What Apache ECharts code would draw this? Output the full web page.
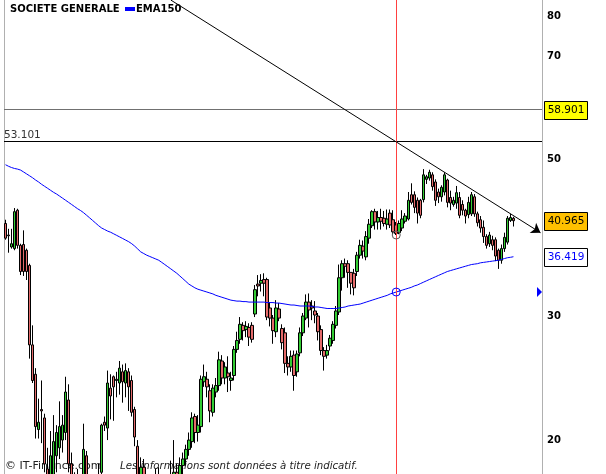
<!DOCTYPE html>
<html><head><meta charset="utf-8">
<script src="https://cdn.jsdelivr.net/npm/echarts@6/dist/echarts.min.js"></script>
<style>html,body{margin:0;padding:0;background:#fff}#c{width:606px;height:474px}</style>
</head><body><div id="c"></div>
<script>
// weekly candles: [open, close, low, high]
const candles = [
[40.6,38.7,38.5,41.1],[39.1,39.0,36.9,39.9],[37.6,38.0,37.4,39.9],[37.4,42.2,37.2,42.7],[42.4,37.8,37.4,42.6],
[37.8,34.7,34.3,38.0],[37.9,34.7,34.2,39.7],[37.2,34.7,33.75,37.4],[35.4,27.3,26.1,35.6],[27.3,24.3,24.1,29.1],
[24.8,20.9,20.1,25.3],[20.7,21.2,20.1,22.9],[22.1,22.0,19.8,24.3],[21.5,18.5,18.0,21.8],[18.2,17.0,15.5,19.5],
[16.5,19.0,15.8,20.6],[17.5,19.9,16.8,21.7],[19.0,20.5,18.0,21.0],[19.5,20.9,18.8,22.7],[20.0,21.0,19.2,21.7],
[20.5,23.4,20.0,24.6],[22.8,18.5,18.0,24.0],[18.5,17.3,16.8,19.2],[17.3,16.8,16.0,18.0],[16.8,17.5,16.2,18.2],
[17.5,16.9,16.1,17.9],[17.0,19.4,16.6,21.1],[19.0,17.2,16.8,19.3],[17.2,16.0,15.4,17.6],[16.0,16.6,15.6,17.2],
[16.6,17.5,16.2,17.8],[17.4,17.8,17.0,18.5],[18.0,21.0,17.6,21.1],[21.2,21.0,20.6,21.6],[20.8,24.1,20.0,25.1],
[23.7,23.1,21.4,24.8],[24.6,23.8,21.3,24.7],[24.3,24.4,23.0,25.0],[24.1,25.3,23.2,25.9],[25.0,24.2,22.6,25.6],
[24.1,25.1,23.0,25.7],[25.0,23.8,22.0,25.3],[24.3,21.9,21.6,24.7],[22.1,20.2,19.6,22.3],[19.6,17.5,17.0,20.0],
[17.5,18.3,17.0,18.9],[18.3,17.4,17.0,18.8],[17.4,16.5,16.0,17.8],[16.5,17.2,16.1,17.7],[17.2,16.4,15.8,17.5],
[16.4,17.6,16.2,18.2],[17.6,17.0,16.7,18.3],[17.0,16.0,15.6,17.2],[16.0,15.6,15.1,16.5],[15.6,16.8,15.3,17.3],
[16.8,16.6,16.2,18.7],[17.4,18.0,16.8,20.0],[18.0,17.6,17.0,18.5],[17.6,18.4,17.2,18.9],[18.4,18.8,17.9,19.2],
[18.8,19.4,18.4,19.7],[19.4,20.0,19.0,20.5],[19.9,21.5,19.5,21.9],[21.6,20.5,19.8,21.8],[20.5,21.0,19.9,21.7],
[20.9,24.4,20.5,24.7],[24.2,24.6,23.8,25.6],[24.4,23.8,23.0,25.0],[23.5,22.0,21.2,24.0],[21.9,23.7,21.6,24.0],
[23.4,23.9,23.0,24.5],[23.9,26.0,23.5,26.7],[25.9,24.5,24.0,26.4],[24.5,25.4,24.0,25.8],[24.9,24.6,23.4,26.3],
[24.3,24.5,23.5,25.0],[24.7,26.9,24.3,27.2],[26.9,27.7,26.6,28.5],[27.8,29.2,27.4,29.9],[29.1,28.6,27.7,29.4],
[28.7,29.0,28.0,29.5],[28.9,28.0,27.2,29.3],[29.1,27.8,27.5,29.4],[30.2,32.7,29.9,33.2],[33.3,33.1,32.0,34.3],
[33.4,33.7,32.5,34.4],[33.8,33.4,32.0,34.5],[33.8,29.9,29.6,34.0],[30.8,29.8,29.0,31.4],[29.8,28.6,27.4,30.1],
[28.5,30.8,28.0,31.6],[30.7,29.8,29.5,31.3],[28.8,27.5,26.9,29.2],[28.4,25.7,24.9,28.9],[25.7,25.4,24.7,26.3],
[25.4,26.3,25.0,26.8],[26.4,24.7,23.5,26.8],[25.0,26.5,24.6,26.8],[26.6,28.4,26.3,28.9],[28.4,30.0,28.1,30.3],
[29.8,31.4,29.6,32.2],[31.4,30.6,28.9,32.3],[31.0,30.8,29.6,31.6],[30.5,30.1,29.3,31.5],[30.0,28.5,27.7,30.3],
[28.7,26.8,26.4,29.1],[26.8,26.3,25.1,27.1],[26.4,26.8,26.1,27.3],[27.2,27.9,26.8,28.2],[27.7,29.2,27.4,29.5],
[29.1,30.5,28.8,31.0],[30.4,34.0,30.1,35.5],[34.0,35.6,32.6,36.0],[35.6,35.3,34.0,36.2],[35.6,34.6,32.9,36.0],
[34.6,33.4,32.2,34.6],[34.5,32.9,32.1,35.0],[34.7,36.6,34.2,37.0],[36.6,37.8,36.2,38.5],[37.7,37.1,36.2,38.4],
[36.4,38.9,36.0,39.6],[38.7,40.5,38.0,41.2],[40.3,42.2,40.0,42.4],[42.2,40.8,39.8,42.6],[40.8,41.4,39.8,42.3],
[41.4,40.9,39.8,42.6],[41.3,40.6,40.2,42.3],[40.5,41.2,39.8,42.5],[42.0,40.4,40.0,42.5],[41.1,39.5,39.2,42.4],
[40.4,39.3,39.1,40.8],[39.4,40.6,39.2,41.0],[40.0,41.2,39.6,42.4],[40.9,41.6,40.6,42.0],[41.2,43.8,41.0,45.0],
[44.6,43.5,43.2,46.3],[44.6,42.8,42.0,45.1],[43.8,42.0,40.6,44.2],[43.8,41.7,41.3,44.0],[43.9,47.6,43.5,48.5],
[46.9,47.3,46.2,47.6],[47.1,48.0,46.7,48.4],[47.6,45.8,45.2,48.0],[46.5,43.8,43.0,46.9],[45.0,44.3,43.4,45.5],
[44.3,45.7,43.6,46.0],[45.0,47.6,44.5,48.0],[46.8,43.5,42.8,47.0],[44.2,43.4,42.4,45.2],[43.2,43.8,42.9,44.3],
[43.4,44.9,42.6,45.9],[44.2,41.7,41.3,45.0],[43.2,42.4,41.7,43.8],[42.4,41.6,40.6,42.6],[41.8,43.5,41.3,44.3],
[41.9,44.6,41.6,45.0],[44.3,41.9,41.5,44.7],[41.9,40.7,40.2,42.2],[41.1,40.0,39.4,41.6],[40.1,38.9,38.1,41.0],
[38.9,37.8,37.4,39.2],[38.0,39.1,37.6,39.5],[38.5,37.8,37.2,39.0],[38.5,36.5,35.9,38.8],[37.2,36.0,35.0,37.4],
[36.0,37.4,35.6,37.9],[37.4,38.8,37.0,39.4],[38.2,41.3,37.9,41.6],[41.0,41.4,40.8,41.9],[41.3,40.965,40.2,41.5]
];
const ema150 = [
49.2,48.95,48.75,48.6,48.5,48.35,48.05,47.75,47.45,47.15,
46.8,46.5,46.15,45.85,45.55,45.25,44.95,44.7,44.4,44.1,
43.8,43.5,43.2,42.9,42.6,42.35,42.05,41.7,41.35,41.0,
40.65,40.3,40.0,39.8,39.6,39.45,39.25,39.05,38.85,38.65,
38.45,38.25,38.0,37.7,37.35,37.0,36.8,36.6,36.45,36.3,
36.15,36.0,35.75,35.5,35.25,35.0,34.75,34.5,34.2,33.9,
33.6,33.3,33.1,32.9,32.75,32.65,32.55,32.45,32.35,32.25,
32.1,32.0,31.9,31.8,31.7,31.6,31.55,31.5,31.5,31.45,
31.45,31.4,31.4,31.4,31.4,31.4,31.4,31.35,31.35,31.35,
31.3,31.3,31.25,31.2,31.15,31.1,31.1,31.05,31.0,31.0,
31.0,31.0,30.95,30.9,30.9,30.85,30.8,30.75,30.75,30.75,
30.75,30.8,30.85,30.9,31.0,31.05,31.1,31.15,31.2,31.3,
31.4,31.5,31.6,31.7,31.8,31.9,32.0,32.1,32.25,32.35,
32.45,32.55,32.65,32.75,32.85,32.95,33.1,33.2,33.35,33.5,
33.65,33.8,33.95,34.1,34.25,34.4,34.55,34.7,34.8,34.9,
35.0,35.1,35.2,35.3,35.4,35.5,35.55,35.6,35.7,35.75,
35.8,35.85,35.9,35.95,36.0,36.1,36.2,36.3,36.35,36.419
];
const nCategories = 179;
const categories = Array.from({length: nCategories}, (_, i) => 'S' + (i + 1));
const yTicks = [80, 70, 50, 30, 20];
const yMin = 17.9, yMax = 84.3;
const levelHigh = 58.901;
const level53 = 53.101;
const lastClose = 40.965;
const lastEma = 36.419;
const cursorIndex = 130;
const cursorLow = 39.1;
const trendPoints = [[55, 84.29], [178, 39.4]];

const chart = echarts.init(document.getElementById('c'), null, {renderer: 'canvas'});
const FONT = 'DejaVu Sans, Verdana, sans-serif';
const trendStyle = {color: '#000', width: 1, type: 'solid'};

chart.setOption({
  animation: false,
  backgroundColor: '#fff',
  grid: {left: 4, right: 64, top: 0, bottom: 0, containLabel: false},
  xAxis: {type: 'category', data: categories, boundaryGap: true,
    axisLine: {show: false}, axisTick: {show: false}, axisLabel: {show: false}, splitLine: {show: false}},
  yAxis: [
    {type: 'log', logBase: 10, min: yMin, max: yMax, position: 'right',
     axisLine: {show: true, lineStyle: {color: '#b0b0b0', width: 1}}, axisTick: {show: false},
     axisLabel: {show: false}, splitLine: {show: false}},
    {type: 'log', logBase: 10, min: yMin, max: yMax, position: 'left',
     axisLine: {show: true, lineStyle: {color: '#b0b0b0', width: 1}}, axisTick: {show: false},
     axisLabel: {show: false}, splitLine: {show: false}}
  ],
  series: [
    {
      type: 'candlestick', data: candles, barWidth: 3, z: 3,
      itemStyle: {color: '#33cc33', color0: '#e46a6a', borderColor: '#000', borderColor0: '#000', borderWidth: 1},
      markLine: {
        silent: true, symbol: 'none', animation: false,
        data: [
          {yAxis: levelHigh, lineStyle: {color: '#707070', width: 1, type: 'solid'}, label: {show: false}},
          {yAxis: level53, lineStyle: {color: '#000', width: 1, type: 'solid'},
           label: {show: true, position: 'insideStartTop', formatter: level53.toFixed(3), color: '#333',
                   fontFamily: FONT, fontSize: 10.5, distance: [0, 1]}},
          {xAxis: categories[cursorIndex], lineStyle: {color: '#ff4040', width: 1, type: 'solid'}, label: {show: false}},
          [{coord: [categories[trendPoints[0][0]], trendPoints[0][1]], symbol: 'none', lineStyle: trendStyle, label: {show: false}},
           {coord: [categories[trendPoints[1][0]], trendPoints[1][1]], symbol: 'arrow', symbolSize: 9,
            lineStyle: trendStyle, label: {show: false}}]
        ]
      },
      markPoint: {
        silent: true, symbol: 'circle', symbolSize: 8, label: {show: false},
        data: [{coord: [categories[cursorIndex], cursorLow],
                itemStyle: {color: 'rgba(0,0,0,0)', borderColor: '#555', borderWidth: 1}}]
      }
    },
    {
      type: 'line', data: ema150, showSymbol: false, symbol: 'none', z: 4,
      lineStyle: {color: '#0000ff', width: 1}, itemStyle: {color: '#0000ff'},
      markPoint: {
        silent: true, symbol: 'circle', symbolSize: 8, label: {show: false},
        data: [{coord: [categories[cursorIndex], ema150[cursorIndex]],
                itemStyle: {color: 'rgba(0,0,0,0)', borderColor: '#0000ff', borderWidth: 1}}]
      }
    }
  ]
});

function py(v) { return chart.convertToPixel({yAxisIndex: 0}, v); }
const axisX = 542;
const graphics = [];
// title
graphics.push({type: 'text', x: 10, y: 9, z: 10,
  style: {text: 'SOCIETE GENERALE', font: 'bold 10px ' + FONT, fill: '#000', textVerticalAlign: 'middle'}});
graphics.push({type: 'rect', shape: {x: 125, y: 7, width: 10, height: 4}, z: 10, style: {fill: '#0000ff'}});
graphics.push({type: 'text', x: 136, y: 9, z: 10,
  style: {text: 'EMA150', font: 'bold 10px ' + FONT, fill: '#000', textVerticalAlign: 'middle'}});
// tick labels
yTicks.forEach(t => {
  graphics.push({type: 'text', x: axisX + 5, y: py(t), z: 10,
    style: {text: String(t), font: 'bold 10px ' + FONT, fill: '#000', textVerticalAlign: 'middle'}});
});
// value tags
function tag(v, bg, fg) {
  const y = py(v);
  graphics.push({type: 'rect', shape: {x: axisX + 2.5, y: Math.round(y) - 8.5, width: 43, height: 18}, z: 10,
    style: {fill: bg, stroke: '#000', lineWidth: 1}});
  graphics.push({type: 'text', x: axisX + 24, y: Math.round(y) + 0.5, z: 11,
    style: {text: v.toFixed(3), font: '10.5px ' + FONT, fill: fg, textAlign: 'center', textVerticalAlign: 'middle'}});
}
tag(levelHigh, '#ffff00', '#000');
tag(lastClose, '#ffc000', '#000');
tag(lastEma, '#ffffff', '#0000ff');
// EMA cursor triangle on axis
const ty = py(ema150[cursorIndex]);
graphics.push({type: 'polygon', z: 10, shape: {points: [[axisX - 5, ty - 5], [axisX, ty], [axisX - 5, ty + 5]]},
  style: {fill: '#0000ff'}});
// footer
graphics.push({type: 'text', x: 5, y: 466, z: 0,
  style: {text: '© IT-Finance.com', font: '11px ' + FONT, fill: '#222', textVerticalAlign: 'middle'}});
graphics.push({type: 'text', x: 120, y: 466, z: 0,
  style: {text: 'Les informations sont données à titre indicatif.', font: 'italic 10.2px ' + FONT, fill: '#222', textVerticalAlign: 'middle'}});
chart.setOption({graphic: graphics});
</script></body></html>
